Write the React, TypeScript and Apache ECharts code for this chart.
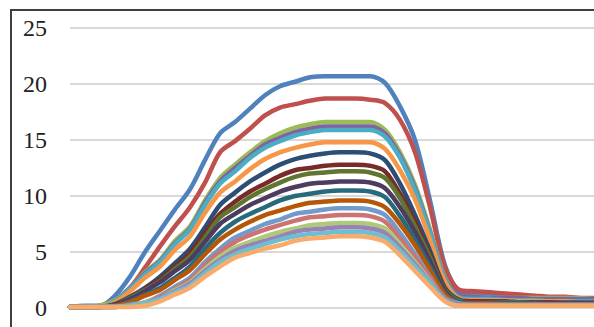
import React, { useEffect, useRef } from "react";
import * as echarts from "echarts";

const categories = ["1","2","3","4","5","6","7","8","9","10","11","12","13","14","15","16","17","18","19","20","21","22","23","24","25","26","27","28","29","30","31","32","33","34","35","36","37"];

const yTicks = [0, 5, 10, 15, 20, 25];

const s1 = [0.1,0.2,0.2,1.1,2.8,5.0,6.9,8.8,10.6,13.2,15.6,16.6,17.8,19.0,19.8,20.2,20.6,20.7,20.7,20.7,20.7,20.1,18.0,15.0,9.6,3.8,1.4,1.2,1.1,1.0,0.9,0.9,0.8,0.8,0.7,0.7,0.7];
const s2 = [0.1,0.1,0.2,0.7,1.8,3.6,5.5,7.3,9.0,11.2,13.9,14.9,16.0,17.2,17.9,18.2,18.5,18.7,18.7,18.7,18.6,18.3,16.8,13.9,9.0,3.6,1.6,1.5,1.4,1.3,1.2,1.1,1.0,1.0,0.9,0.9,0.9];
const s3 = [0.1,0.1,0.2,0.7,1.8,3.2,4.3,6.0,7.3,9.6,11.6,12.8,13.9,14.9,15.6,16.1,16.4,16.6,16.6,16.6,16.6,15.9,13.9,11.0,7.0,2.7,1.0,1.0,0.9,0.9,0.9,0.9,0.9,0.9,0.9,0.8,0.8];
const s4 = [0.1,0.1,0.1,0.6,1.8,3.1,4.2,5.8,7.1,9.4,11.3,12.5,13.6,14.6,15.2,15.7,16.0,16.2,16.2,16.2,16.2,15.6,13.6,10.7,6.8,2.6,1.1,1.0,0.9,0.9,0.9,0.8,0.8,0.8,0.8,0.8,0.8];
const s5 = [0.1,0.1,0.1,0.6,1.7,3.0,4.1,5.7,7.0,9.2,11.1,12.2,13.4,14.3,14.9,15.4,15.7,15.9,15.9,15.9,15.9,15.3,13.4,10.5,6.7,2.5,0.9,0.8,0.8,0.7,0.7,0.7,0.6,0.6,0.6,0.6,0.6];
const s6 = [0.1,0.1,0.1,0.5,1.5,2.7,3.7,5.2,6.4,8.5,10.3,11.3,12.4,13.3,13.9,14.3,14.6,14.8,14.8,14.8,14.8,14.2,12.3,9.7,6.1,2.3,0.8,0.7,0.7,0.7,0.6,0.6,0.6,0.6,0.5,0.5,0.5];
const s7 = [0.1,0.1,0.1,0.35,1.0,1.8,2.8,4.0,5.3,7.2,9.2,10.3,11.3,12.1,12.8,13.3,13.6,13.8,13.9,13.9,13.8,13.2,11.1,8.3,5.1,1.8,0.7,0.6,0.6,0.6,0.5,0.5,0.5,0.5,0.5,0.5,0.5];
const s8 = [0.1,0.1,0.1,0.3,0.9,1.7,2.6,3.7,4.9,6.7,8.4,9.5,10.4,11.1,11.8,12.3,12.5,12.7,12.8,12.8,12.7,12.2,10.2,7.7,4.7,1.7,0.6,0.6,0.5,0.5,0.5,0.5,0.5,0.4,0.4,0.4,0.4];
const s9 = [0.1,0.1,0.1,0.3,0.9,1.6,2.4,3.5,4.6,6.3,8.1,9.0,9.9,10.6,11.2,11.7,12.0,12.1,12.2,12.2,12.1,11.6,9.8,7.3,4.5,1.6,0.6,0.5,0.5,0.5,0.5,0.4,0.4,0.4,0.4,0.4,0.4];
const s10 = [0.1,0.1,0.1,0.3,0.8,1.5,2.3,3.3,4.3,5.9,7.5,8.4,9.2,9.8,10.4,10.8,11.1,11.2,11.3,11.3,11.2,10.7,9.0,6.8,4.2,1.5,0.5,0.5,0.5,0.4,0.4,0.4,0.4,0.4,0.4,0.4,0.4];
const s11 = [0.1,0.1,0.1,0.2,0.6,1.2,1.8,2.7,3.7,5.3,6.7,7.7,8.4,9.0,9.6,10.0,10.2,10.4,10.5,10.5,10.4,9.9,8.2,6.1,3.7,1.3,0.5,0.4,0.4,0.4,0.4,0.4,0.3,0.3,0.3,0.3,0.3];
const s12 = [0.1,0.1,0.1,0.2,0.5,1.1,1.6,2.5,3.4,4.8,6.1,7.0,7.7,8.3,8.7,9.1,9.4,9.5,9.6,9.6,9.5,9.0,7.5,5.6,3.4,1.2,0.4,0.4,0.4,0.3,0.3,0.3,0.3,0.3,0.3,0.3,0.3];
const s13 = [0.1,0.1,0.1,0.1,0.3,0.5,1.1,1.9,2.7,4.1,5.3,6.3,6.9,7.5,7.9,8.4,8.6,8.8,8.9,8.9,8.8,8.3,6.7,4.8,2.8,0.9,0.4,0.3,0.3,0.3,0.3,0.3,0.3,0.3,0.3,0.3,0.3];
const s14 = [0.1,0.1,0.1,0.1,0.2,0.5,1.0,1.7,2.5,3.8,5.0,5.9,6.5,7.0,7.4,7.8,8.1,8.2,8.3,8.3,8.2,7.7,6.2,4.5,2.7,0.8,0.3,0.3,0.3,0.3,0.3,0.3,0.3,0.3,0.3,0.3,0.3];
const s15 = [0.1,0.1,0.1,0.1,0.2,0.5,0.9,1.6,2.3,3.5,4.6,5.4,5.9,6.4,6.8,7.1,7.4,7.5,7.6,7.6,7.5,7.1,5.7,4.1,2.4,0.6,0.2,0.2,0.2,0.2,0.2,0.2,0.2,0.2,0.2,0.2,0.2];
const s16 = [0.1,0.1,0.1,0.1,0.2,0.4,0.9,1.5,2.2,3.3,4.3,5.1,5.6,6.0,6.4,6.8,7.0,7.1,7.2,7.2,7.1,6.7,5.4,3.9,2.3,0.7,0.2,0.2,0.2,0.2,0.2,0.2,0.2,0.2,0.2,0.2,0.2];
const s17 = [0.1,0.1,0.1,0.1,0.2,0.4,0.8,1.4,2.0,3.1,4.1,4.8,5.3,5.7,6.1,6.4,6.6,6.7,6.8,6.8,6.7,6.3,5.1,3.7,2.2,0.7,0.2,0.2,0.2,0.2,0.2,0.2,0.2,0.2,0.2,0.2,0.2];
const s18 = [0.1,0.1,0.1,0.1,0.1,0.2,0.6,1.2,1.8,2.8,3.7,4.5,4.9,5.3,5.6,6.0,6.2,6.3,6.4,6.4,6.3,5.9,4.7,3.3,1.9,0.6,0.2,0.2,0.2,0.2,0.2,0.2,0.2,0.2,0.2,0.2,0.2];

const seriesNames = ["Series1","Series2","Series3","Series4","Series5","Series6","Series7","Series8","Series9","Series10","Series11","Series12","Series13","Series14","Series15","Series16","Series17","Series18"];
const seriesData = [s1, s2, s3, s4, s5, s6, s7, s8, s9, s10, s11, s12, s13, s14, s15, s16, s17, s18];
const colors = ["#4F81BD","#C0504D","#9BBB59","#8064A2","#4BACC6","#F79646","#2C4D75","#772C2A","#5F7530","#4D3B62","#276A7C","#B65708","#729ACA","#CD7371","#AFC97A","#9983B5","#6FBDD1","#F9AB6B"];

export default function App() {
  const ref = useRef<HTMLDivElement>(null);
  useEffect(() => {
    if (!ref.current) return;
    const chart = echarts.init(ref.current, null, { renderer: "svg" });
    chart.setOption({
      animation: false,
      backgroundColor: "#ffffff",
      grid: { left: 70, top: 28, right: 10, bottom: 32, containLabel: false },
      xAxis: {
        type: "category",
        data: categories,
        boundaryGap: false,
        axisLine: { show: true, lineStyle: { color: "#d9d9d9", width: 2 } },
        axisTick: { show: false },
        axisLabel: { show: false },
        splitLine: { show: false },
      },
      yAxis: {
        type: "value",
        min: yTicks[0],
        max: yTicks[yTicks.length - 1],
        interval: 5,
        axisLine: { show: false },
        axisTick: { show: false },
        axisLabel: {
          margin: 23,
          color: "#222222",
          fontFamily: "Liberation Serif",
          fontSize: 24,
        },
        splitLine: { show: true, lineStyle: { color: "#d9d9d9", width: 2 } },
      },
      graphic: [
        {
          type: "rect",
          shape: { x: 11, y: 10, width: 800, height: 600 },
          style: { fill: "none", stroke: "#404040", lineWidth: 2 },
          silent: true,
          z: 100,
        },
      ],
      series: seriesData.map((d, i) => ({
        name: seriesNames[i],
        type: "line",
        data: d,
        smooth: 0.3,
        showSymbol: false,
        symbol: "none",
        color: colors[i],
        lineStyle: { width: 4.5, color: colors[i], cap: "round", join: "round" },
      })),
    });
    return () => chart.dispose();
  }, []);
  return (
    <div style={{ position: "absolute", left: 0, top: 0, width: 594, height: 327, overflow: "hidden", background: "#fff" }}>
      <div ref={ref} style={{ width: 620, height: 340 }} />
    </div>
  );
}
